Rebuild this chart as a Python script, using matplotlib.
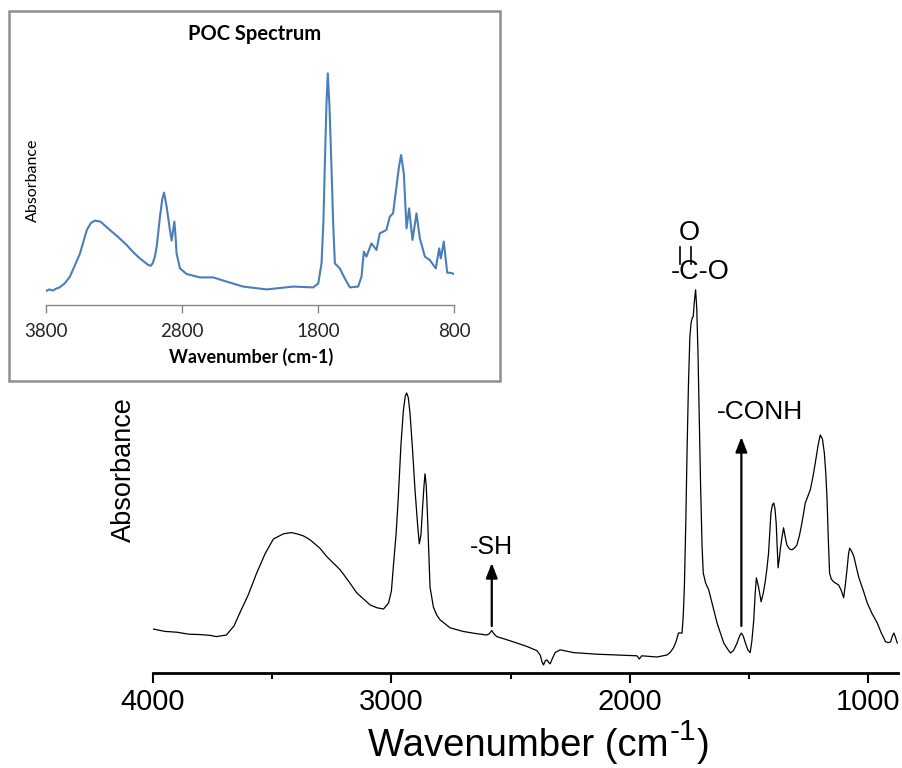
import matplotlib
matplotlib.use("Agg")
import matplotlib.pyplot as plt
from matplotlib.patches import Rectangle

# ---- main FTIR spectrum (wavenumber in cm-1, absorbance in a.u.) ----
wavenumber = [4000, 3950, 3900, 3850, 3800, 3760, 3734, 3692, 3660, 3636, 3600,
              3565, 3530, 3495, 3453, 3420, 3397, 3370, 3341, 3300, 3271, 3215,
              3180, 3145, 3089, 3060, 3033, 3012, 3000, 2992, 2980, 2971, 2960,
              2950, 2942, 2936, 2929, 2922, 2912, 2901, 2890, 2883, 2876, 2869,
              2863, 2859, 2854, 2849, 2843, 2838, 2824, 2810, 2796, 2754, 2700,
              2650, 2600, 2590, 2579, 2570, 2558, 2520, 2474, 2430, 2390, 2376,
              2368, 2362, 2355, 2348, 2340, 2334, 2325, 2313, 2292, 2236, 2138,
              2050, 1970, 1960, 1950, 1886, 1844, 1830, 1817, 1805, 1796, 1791,
              1781, 1776, 1771, 1765, 1760, 1754, 1748, 1743, 1738, 1734, 1729,
              1724, 1719, 1714, 1708, 1703, 1697, 1692, 1682, 1669, 1655, 1634,
              1606, 1590, 1578, 1565, 1550, 1540, 1532, 1524, 1515, 1505, 1495,
              1488, 1480, 1474, 1469, 1460, 1449, 1440, 1432, 1425, 1418, 1413,
              1408, 1402, 1396, 1391, 1386, 1382, 1378, 1373, 1369, 1362, 1355,
              1348, 1341, 1330, 1320, 1310, 1299, 1288, 1278, 1264, 1243, 1232,
              1222, 1210, 1201, 1192, 1184, 1178, 1173, 1167, 1162, 1155, 1145,
              1135, 1124, 1112, 1103, 1096, 1089, 1083, 1078, 1070, 1060, 1050,
              1039, 1020, 1004, 985, 962, 945, 927, 915, 906, 899, 892, 885, 878]
absorbance = [0.110, 0.104, 0.102, 0.097, 0.096, 0.094, 0.091, 0.095, 0.118, 0.150, 0.196,
              0.250, 0.298, 0.335, 0.348, 0.351, 0.348, 0.343, 0.333, 0.312, 0.291, 0.258,
              0.230, 0.200, 0.170, 0.163, 0.160, 0.175, 0.205, 0.265, 0.350, 0.440, 0.570,
              0.655, 0.692, 0.700, 0.688, 0.650, 0.565, 0.458, 0.370, 0.323, 0.345, 0.416,
              0.470, 0.498, 0.470, 0.400, 0.300, 0.215, 0.165, 0.145, 0.133, 0.113, 0.104,
              0.099, 0.095, 0.098, 0.106, 0.098, 0.091, 0.084, 0.075, 0.066, 0.056, 0.045,
              0.028, 0.020, 0.030, 0.033, 0.026, 0.023, 0.036, 0.051, 0.058, 0.051, 0.047,
              0.045, 0.043, 0.035, 0.043, 0.040, 0.045, 0.052, 0.063, 0.080, 0.100, 0.100,
              0.100, 0.140, 0.216, 0.380, 0.550, 0.720, 0.841, 0.875, 0.888, 0.891, 0.930,
              0.958, 0.910, 0.800, 0.620, 0.466, 0.320, 0.250, 0.225, 0.208, 0.175, 0.125,
              0.075, 0.060, 0.050, 0.056, 0.075, 0.092, 0.100, 0.092, 0.075, 0.058, 0.051,
              0.080, 0.133, 0.200, 0.238, 0.215, 0.178, 0.200, 0.228, 0.260, 0.300, 0.350,
              0.400, 0.420, 0.425, 0.410, 0.375, 0.320, 0.263, 0.285, 0.308, 0.338, 0.363,
              0.340, 0.320, 0.310, 0.308, 0.312, 0.320, 0.345, 0.375, 0.425, 0.458, 0.490,
              0.525, 0.570, 0.595, 0.585, 0.550, 0.500, 0.440, 0.330, 0.250, 0.235, 0.228,
              0.224, 0.220, 0.205, 0.188, 0.220, 0.258, 0.295, 0.312, 0.305, 0.291, 0.265,
              0.238, 0.205, 0.175, 0.150, 0.125, 0.100, 0.078, 0.076, 0.078, 0.092, 0.100,
              0.088, 0.075]

# ---- inset: POC spectrum ----
poc_wavenumber = [3800, 3775, 3750, 3725, 3700, 3660, 3624, 3590, 3550, 3500, 3470,
                  3440, 3400, 3330, 3270, 3207, 3160, 3110, 3048, 3030, 3016, 3000,
                  2986, 2962, 2945, 2932, 2913, 2890, 2876, 2866, 2856, 2848, 2840,
                  2815, 2766, 2668, 2570, 2472, 2350, 2177, 1982, 1835, 1798, 1774,
                  1760, 1750, 1738, 1728, 1716, 1701, 1688, 1676, 1640, 1603, 1566,
                  1505, 1480, 1463, 1444, 1407, 1370, 1346, 1297, 1272, 1248, 1223,
                  1205, 1189, 1169, 1149, 1130, 1105, 1076, 1051, 1014, 978, 934,
                  909, 897, 875, 850, 820, 800]
poc_absorbance = [0.070, 0.078, 0.072, 0.082, 0.088, 0.110, 0.142, 0.195, 0.258, 0.375, 0.410,
                  0.422, 0.417, 0.375, 0.340, 0.300, 0.265, 0.233, 0.200, 0.196, 0.208, 0.240,
                  0.292, 0.442, 0.530, 0.562, 0.492, 0.380, 0.322, 0.370, 0.417, 0.350, 0.258,
                  0.183, 0.155, 0.138, 0.138, 0.117, 0.092, 0.078, 0.092, 0.088, 0.108, 0.208,
                  0.420, 0.692, 1.000, 1.158, 1.000, 0.692, 0.400, 0.208, 0.183, 0.133, 0.088,
                  0.092, 0.142, 0.267, 0.242, 0.308, 0.275, 0.358, 0.375, 0.442, 0.458, 0.592,
                  0.690, 0.750, 0.658, 0.383, 0.483, 0.325, 0.458, 0.333, 0.242, 0.225, 0.183,
                  0.283, 0.233, 0.317, 0.162, 0.160, 0.155]

main_ticks = [4000, 3000, 2000, 1000]
main_minor = [3500, 2500, 1500]
poc_ticks = [3800, 2800, 1800, 800]

SANS = ["Liberation Sans", "DejaVu Sans"]
INSET_FONT = ["Lato", "DejaVu Sans"]

W, H = 902, 768
fig = plt.figure(figsize=(W / 100, H / 100), dpi=100)
fig.patch.set_facecolor("white")

def fx(px):
    return px / W

def fy(py):
    return 1 - py / H

# ---- main axes ----
ax = fig.add_axes([fx(153), fy(673), fx(898) - fx(153), fy(11) - fy(673)])
ax.set_zorder(0)
ax.plot(wavenumber, absorbance, color="black", lw=0.9)
ax.set_xlim(4000, 875)
ax.set_ylim(0, 1.655)
for s in ("top", "right", "left"):
    ax.spines[s].set_visible(False)
ax.spines["bottom"].set_linewidth(2.0)
ax.set_yticks([])
ax.set_xticks(main_ticks)
ax.set_xticks(main_minor, minor=True)
ax.set_xticklabels([str(t) for t in main_ticks])
ax.tick_params(axis="x", which="major", direction="out", length=7, width=1.5,
               pad=4, labelsize=21)
ax.tick_params(axis="x", which="minor", direction="out", length=4, width=1.5)
for lab in ax.get_xticklabels():
    lab.set_fontfamily(SANS)

# x label assembled from pieces so the superscript keeps a plain hyphen
xl_size = 27.5
xl_y = fy(746)
t1 = fig.text(0, xl_y, "Wavenumber (cm", ha="left", va="center", fontsize=xl_size, family=SANS)
t2 = fig.text(0, xl_y, "-1", ha="left", va="center", fontsize=xl_size * 0.78, family=SANS)
t3 = fig.text(0, xl_y, ")", ha="left", va="center", fontsize=xl_size, family=SANS)
fig.canvas.draw()
r = fig.canvas.get_renderer()
w1 = t1.get_window_extent(r).width
w2 = t2.get_window_extent(r).width
w3 = t3.get_window_extent(r).width
x0 = 538 - (w1 + w2 + w3) / 2
t1.set_x(fx(x0))
t2.set_x(fx(x0 + w1 + 1))
t2.set_y(fy(732))
t3.set_x(fx(x0 + w1 + w2 + 2))

fig.text(fx(124), fy(470), "Absorbance", rotation=90, ha="center", va="center",
         fontsize=19.5, family=SANS)

# peak annotations
arrow_kw = dict(arrowstyle="-|>,head_length=0.9,head_width=0.35", color="black", lw=1.6,
                shrinkA=0, shrinkB=0)
ax.annotate("", xy=(2579, 0.275), xytext=(2579, 0.1175), arrowprops=arrow_kw)
ax.text(2579, 0.315, "-SH", ha="center", va="center", fontsize=18, family=SANS)
ax.annotate("", xy=(1532, 0.59), xytext=(1532, 0.1175), arrowprops=arrow_kw)
ax.text(1453, 0.652, "-CONH", ha="center", va="center", fontsize=19, family=SANS)
ax.text(1705, 1.0025, "-C-O", ha="center", va="center", fontsize=19.5, family=SANS)
ax.text(1752, 1.10, "O", ha="center", va="center", fontsize=19.5, family=SANS)
for wx in (1790, 1743):
    ax.plot([wx, wx], [1.022, 1.066], color="black", lw=1.2)

# ---- inset frame ----
frame = Rectangle((fx(9), fy(381)), fx(500) - fx(9), fy(11) - fy(381),
                  transform=fig.transFigure, facecolor="white", edgecolor="#8f8f8f",
                  lw=1.8, zorder=1)
fig.add_artist(frame)

# ---- inset axes ----
ins = fig.add_axes([fx(46), fy(305), fx(454) - fx(46), fy(60) - fy(305)])
ins.set_zorder(2)
ins.patch.set_alpha(0)
ins.plot(poc_wavenumber, poc_absorbance, color="#4a7ebb", lw=1.5)
ins.set_xlim(3800, 800)
ins.set_ylim(0, 1.225)
for s in ("top", "right", "left"):
    ins.spines[s].set_visible(False)
ins.spines["bottom"].set_color("#868686")
ins.spines["bottom"].set_linewidth(1.0)
ins.set_yticks([])
ins.set_xticks(poc_ticks)
ins.set_xticklabels([str(t) for t in poc_ticks])
ins.tick_params(axis="x", direction="out", length=6, width=1.0, color="#868686",
                pad=7, labelsize=13.5, labelcolor="#262626")
for lab in ins.get_xticklabels():
    lab.set_fontfamily(INSET_FONT)
fig.text(fx(255), fy(34), "POC Spectrum", ha="center", va="center", fontsize=14.5,
         fontweight="bold", family=INSET_FONT)
fig.text(fx(251), fy(357), "Wavenumber (cm-1)", ha="center", va="center", fontsize=13,
         fontweight="bold", family=INSET_FONT)
fig.text(fx(33), fy(180), "Absorbance", rotation=90, ha="center", va="center",
         fontsize=11.5, family=INSET_FONT)

fig.savefig("out.png", dpi=100, facecolor="white")
